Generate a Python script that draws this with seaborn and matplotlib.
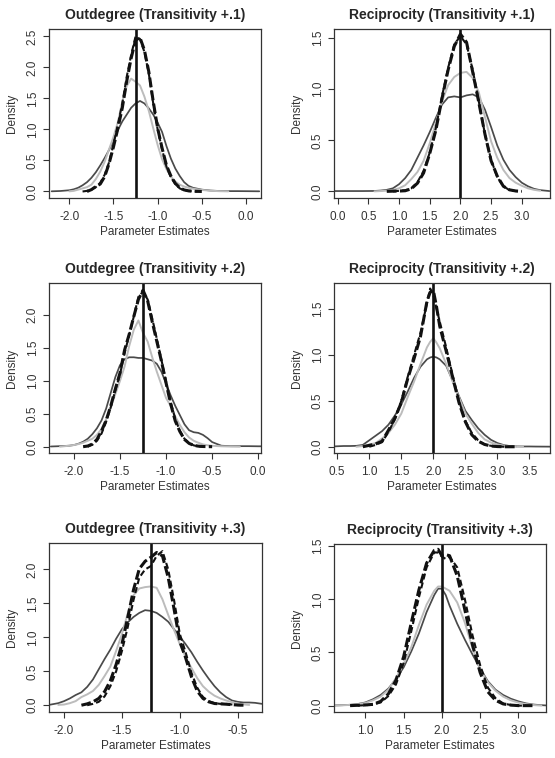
import numpy as np
import pandas as pd
import matplotlib
matplotlib.use("Agg")
import matplotlib.pyplot as plt
import seaborn as sns

nan = np.nan

# --------------------------------
# DATA (densities)
# --------------------------------

titles = [
    "Outdegree (Transitivity +.1)",
    "Reciprocity (Transitivity +.1)",
    "Outdegree (Transitivity +.2)",
    "Reciprocity (Transitivity +.2)",
    "Outdegree (Transitivity +.3)",
    "Reciprocity (Transitivity +.3)",
]

true_outdegree = -1.25
true_reciprocity = 2.0

# panel 1: outdegree, transitivity +.1
od1_x = [-2.2, -2.1, -2.0, -1.95, -1.9, -1.85, -1.8, -1.75, -1.7, -1.65,
         -1.6, -1.55, -1.5, -1.45, -1.4, -1.35, -1.3, -1.25, -1.2, -1.15,
         -1.1, -1.05, -1.0, -0.95, -0.9, -0.85, -0.8, -0.75, -0.7, -0.65,
         -0.6, -0.55, -0.5, -0.4, -0.3, -0.2, -0.1, 0.0, 0.15]
od1_dark = [0.003, 0.008, 0.02, 0.035, 0.06, 0.1, 0.15, 0.22, 0.31, 0.42,
            0.54, 0.67, 0.82, 0.99, 1.13, 1.24, 1.35, 1.42, 1.46, 1.42,
            1.34, 1.24, 1.11, 0.96, 0.73, 0.53, 0.37, 0.25, 0.15, 0.09,
            0.06, 0.045, 0.03, 0.015, 0.008, 0.006, 0.006, 0.005, 0.003]
od1_light = [nan, nan, 0.003, 0.01, 0.03, 0.05, 0.07, 0.11, 0.2, 0.32,
             0.48, 0.68, 0.88, 1.12, 1.45, 1.7, 1.82, 1.77, 1.71, 1.53,
             1.3, 1.02, 0.75, 0.52, 0.36, 0.24, 0.16, 0.11, 0.08, 0.06,
             0.045, 0.035, 0.025, 0.012, 0.005, 0.002, nan, nan, nan]
od1_dash_a = [nan, nan, nan, nan, nan, nan, 0.0, 0.03, 0.08, 0.12,
              0.24, 0.45, 0.72, 1.02, 1.35, 1.78, 2.15, 2.44, 2.48, 2.28,
              1.93, 1.45, 1.02, 0.7, 0.42, 0.25, 0.13, 0.06, 0.025, 0.01,
              0.005, 0.002, 0.0, nan, nan, nan, nan, nan, nan]
od1_dash_b = [nan, nan, nan, nan, nan, 0.0, 0.01, 0.03, 0.07, 0.14,
              0.27, 0.47, 0.76, 1.08, 1.42, 1.85, 2.2, 2.5, 2.46, 2.25,
              1.9, 1.42, 1.0, 0.68, 0.4, 0.23, 0.12, 0.05, 0.02, 0.008,
              0.003, 0.0, nan, nan, nan, nan, nan, nan, nan]

# panel 2: reciprocity, transitivity +.1
rc1_x = [-0.05, 0.2, 0.4, 0.6, 0.7, 0.8, 0.9, 1.0, 1.1, 1.2, 1.3, 1.4,
         1.5, 1.6, 1.7, 1.8, 1.9, 2.0, 2.1, 2.2, 2.3, 2.4, 2.5, 2.6,
         2.7, 2.8, 2.9, 3.0, 3.1, 3.2, 3.3, 3.45]
rc1_dark = [0.003, 0.003, 0.003, 0.004, 0.008, 0.015, 0.03, 0.07, 0.13, 0.21,
            0.33, 0.45, 0.58, 0.72, 0.85, 0.92, 0.93, 0.92, 0.94, 0.95,
            0.92, 0.8, 0.63, 0.45, 0.31, 0.21, 0.14, 0.085, 0.05, 0.025,
            0.012, 0.003]
rc1_light = [nan, nan, nan, 0.0, 0.003, 0.007, 0.014, 0.03, 0.06, 0.12,
             0.19, 0.3, 0.47, 0.67, 0.88, 1.04, 1.12, 1.16, 1.17, 1.11,
             0.97, 0.73, 0.49, 0.33, 0.21, 0.13, 0.085, 0.055, 0.03, 0.015,
             0.006, nan]
rc1_dash_a = [nan, nan, nan, nan, nan, 0.0, 0.002, 0.003, 0.006, 0.025,
              0.08, 0.18, 0.37, 0.6, 0.91, 1.19, 1.42, 1.54, 1.46, 1.17,
              0.87, 0.56, 0.3, 0.15, 0.05, 0.015, 0.004, 0.0, nan, nan,
              nan, nan]
rc1_dash_b = [nan, nan, nan, nan, nan, nan, 0.0, 0.005, 0.01, 0.03,
              0.09, 0.2, 0.38, 0.62, 0.93, 1.21, 1.44, 1.52, 1.44, 1.19,
              0.88, 0.56, 0.31, 0.14, 0.05, 0.012, 0.003, 0.0, nan, nan,
              nan, nan]

# panel 3: outdegree, transitivity +.2
od2_x = [-2.25, -2.15, -2.05, -2.0, -1.95, -1.9, -1.85, -1.8, -1.75, -1.7,
         -1.65, -1.6, -1.55, -1.5, -1.45, -1.4, -1.35, -1.3, -1.25, -1.2,
         -1.15, -1.1, -1.05, -1.0, -0.95, -0.9, -0.85, -0.8, -0.75, -0.7,
         -0.65, -0.6, -0.55, -0.5, -0.4, -0.3, -0.2, -0.1, 0.0, 0.03]
od2_dark = [0.003, 0.008, 0.015, 0.025, 0.045, 0.075, 0.12, 0.19, 0.28, 0.4,
            0.58, 0.82, 1.06, 1.24, 1.33, 1.36, 1.36, 1.35, 1.35, 1.33,
            1.31, 1.26, 1.14, 0.96, 0.78, 0.62, 0.48, 0.34, 0.25, 0.22,
            0.21, 0.18, 0.13, 0.07, 0.015, 0.008, 0.008, 0.008, 0.006, 0.006]
od2_light = [nan, 0.0, 0.015, 0.025, 0.04, 0.06, 0.09, 0.12, 0.18, 0.27,
             0.42, 0.6, 0.8, 1.0, 1.22, 1.53, 1.78, 1.92, 1.73, 1.6,
             1.36, 1.14, 0.94, 0.74, 0.62, 0.46, 0.33, 0.22, 0.14, 0.09,
             0.06, 0.035, 0.022, 0.014, 0.006, 0.002, 0.0, nan, nan, nan]
od2_dash_a = [nan, nan, nan, nan, nan, 0.0, 0.01, 0.04, 0.11, 0.24,
              0.4, 0.62, 0.88, 1.12, 1.47, 1.71, 1.98, 2.24, 2.38, 2.22,
              1.9, 1.6, 1.3, 0.97, 0.65, 0.39, 0.23, 0.11, 0.05, 0.02,
              0.008, 0.003, 0.001, 0.0, nan, nan, nan, nan, nan, nan]
od2_dash_b = [nan, nan, nan, nan, nan, nan, 0.0, 0.03, 0.09, 0.2,
              0.38, 0.6, 0.86, 1.1, 1.42, 1.7, 1.98, 2.28, 2.36, 2.24,
              1.95, 1.64, 1.32, 0.99, 0.68, 0.42, 0.24, 0.12, 0.055, 0.02,
              0.005, 0.0, nan, nan, nan, nan, nan, nan, nan, nan]

# panel 4: reciprocity, transitivity +.2
rc2_x = [0.46, 0.6, 0.7, 0.8, 0.9, 1.0, 1.1, 1.2, 1.3, 1.4, 1.5, 1.6,
         1.7, 1.8, 1.9, 1.95, 2.0, 2.05, 2.1, 2.2, 2.3, 2.4, 2.5, 2.6,
         2.7, 2.8, 2.9, 3.0, 3.1, 3.2, 3.3, 3.4, 3.5, 3.6, 3.82]
rc2_dark = [0.004, 0.008, 0.008, 0.01, 0.02, 0.07, 0.12, 0.17, 0.24, 0.34,
            0.46, 0.6, 0.75, 0.87, 0.95, 0.97, 0.98, 0.97, 0.95, 0.88,
            0.72, 0.55, 0.39, 0.29, 0.2, 0.13, 0.075, 0.04, 0.018, 0.007,
            0.004, 0.003, 0.003, 0.002, 0.001]
rc2_light = [nan, nan, nan, 0.0, 0.008, 0.023, 0.04, 0.09, 0.15, 0.24,
             0.36, 0.54, 0.71, 0.9, 1.08, 1.14, 1.18, 1.13, 1.07, 0.9,
             0.71, 0.54, 0.36, 0.25, 0.15, 0.08, 0.045, 0.025, 0.012, 0.006,
             0.002, 0.0, nan, nan, nan]
rc2_dash_a = [nan, nan, nan, nan, 0.0, 0.015, 0.03, 0.06, 0.18, 0.31,
              0.48, 0.74, 0.96, 1.2, 1.58, 1.68, 1.7, 1.52, 1.31, 1.04,
              0.76, 0.48, 0.27, 0.13, 0.06, 0.025, 0.008, 0.002, 0.0, 0.0,
              0.0, nan, nan, nan, nan]
rc2_dash_b = [nan, nan, nan, nan, nan, 0.0, 0.02, 0.05, 0.16, 0.3,
              0.5, 0.76, 1.0, 1.24, 1.56, 1.72, 1.65, 1.5, 1.36, 1.08,
              0.78, 0.5, 0.28, 0.15, 0.07, 0.025, 0.01, 0.003, 0.0, 0.0,
              0.0, nan, nan, nan, nan]

# panel 5: outdegree, transitivity +.3
od3_x = [-2.12, -2.05, -2.0, -1.95, -1.9, -1.85, -1.8, -1.75, -1.7, -1.65,
         -1.6, -1.55, -1.5, -1.45, -1.4, -1.35, -1.3, -1.25, -1.2, -1.15,
         -1.1, -1.05, -1.0, -0.95, -0.9, -0.85, -0.8, -0.75, -0.7, -0.65,
         -0.6, -0.55, -0.5, -0.45, -0.4, -0.35, -0.29]
od3_dark = [0.008, 0.03, 0.06, 0.1, 0.15, 0.19, 0.27, 0.38, 0.53, 0.68,
            0.82, 0.98, 1.12, 1.22, 1.3, 1.36, 1.4, 1.39, 1.36, 1.3,
            1.23, 1.12, 1.01, 0.9, 0.78, 0.64, 0.51, 0.39, 0.28, 0.19,
            0.12, 0.07, 0.05, 0.04, 0.04, 0.035, 0.02]
od3_light = [nan, 0.005, 0.01, 0.03, 0.06, 0.12, 0.16, 0.21, 0.3, 0.43,
             0.57, 0.8, 1.05, 1.35, 1.62, 1.72, 1.74, 1.75, 1.73, 1.56,
             1.33, 1.11, 0.9, 0.71, 0.55, 0.4, 0.28, 0.2, 0.14, 0.1,
             0.07, 0.045, 0.025, 0.012, 0.004, nan, nan]
od3_dash_a = [nan, nan, nan, nan, nan, 0.0, 0.02, 0.05, 0.1, 0.2,
              0.36, 0.6, 0.9, 1.29, 1.7, 2.01, 2.12, 2.18, 2.25, 2.2,
              1.88, 1.42, 0.94, 0.7, 0.42, 0.21, 0.1, 0.05, 0.025, 0.02,
              0.015, 0.008, 0.003, 0.0, nan, nan, nan]
od3_dash_b = [nan, nan, nan, nan, nan, nan, 0.0, 0.02, 0.05, 0.13,
              0.28, 0.5, 0.8, 1.15, 1.55, 1.88, 2.0, 2.05, 2.2, 2.27,
              2.0, 1.55, 1.05, 0.78, 0.48, 0.26, 0.12, 0.06, 0.03, 0.02,
              0.02, 0.01, 0.002, 0.0, nan, nan, nan]

# panel 6: reciprocity, transitivity +.3
rc3_x = [0.6, 0.7, 0.8, 0.9, 1.0, 1.1, 1.2, 1.3, 1.4, 1.5, 1.6, 1.7,
         1.8, 1.9, 1.95, 2.0, 2.05, 2.1, 2.2, 2.3, 2.4, 2.5, 2.6, 2.7,
         2.8, 2.9, 3.0, 3.1, 3.2, 3.3, 3.36]
rc3_dark = [0.002, 0.004, 0.008, 0.015, 0.03, 0.06, 0.1, 0.16, 0.25, 0.36,
            0.51, 0.68, 0.88, 1.04, 1.1, 1.1, 1.04, 0.94, 0.77, 0.62,
            0.48, 0.35, 0.23, 0.15, 0.1, 0.065, 0.04, 0.021, 0.01, 0.004,
            0.002]
rc3_light = [0.0, 0.003, 0.007, 0.014, 0.025, 0.05, 0.085, 0.15, 0.26, 0.39,
             0.55, 0.76, 0.95, 1.08, 1.12, 1.12, 1.1, 1.08, 0.97, 0.78,
             0.54, 0.34, 0.22, 0.14, 0.085, 0.05, 0.028, 0.014, 0.005, 0.0,
             nan]
rc3_dash_a = [nan, nan, 0.0, 0.003, 0.006, 0.012, 0.04, 0.11, 0.24, 0.46,
              0.78, 1.09, 1.34, 1.46, 1.47, 1.41, 1.42, 1.41, 1.22, 0.9,
              0.57, 0.31, 0.13, 0.05, 0.016, 0.005, 0.0, 0.0, 0.0, nan,
              nan]
rc3_dash_b = [nan, nan, nan, 0.0, 0.004, 0.01, 0.03, 0.09, 0.2, 0.4,
              0.7, 1.02, 1.3, 1.44, 1.44, 1.4, 1.38, 1.4, 1.3, 1.0,
              0.66, 0.38, 0.17, 0.07, 0.02, 0.006, 0.0, 0.0, nan, nan,
              nan]

# tick positions shown on each panel
od1_xticks = [-2.0, -1.5, -1.0, -0.5, 0.0]
od2_xticks = [-2.0, -1.5, -1.0, -0.5, 0.0]
od3_xticks = [-2.0, -1.5, -1.0, -0.5]
rc1_xticks = [0.0, 0.5, 1.0, 1.5, 2.0, 2.5, 3.0]
rc2_xticks = [0.5, 1.0, 1.5, 2.0, 2.5, 3.0, 3.5]
rc3_xticks = [1.0, 1.5, 2.0, 2.5, 3.0]
od1_yticks = [0.0, 0.5, 1.0, 1.5, 2.0, 2.5]
od2_yticks = [0.0, 0.5, 1.0, 1.5, 2.0]
od3_yticks = [0.0, 0.5, 1.0, 1.5, 2.0]
rc_yticks = [0.0, 0.5, 1.0, 1.5]

# --------------------------------
# STYLE
# --------------------------------

sns.set_theme(style="white")
plt.rcParams["font.family"] = ["Liberation Sans", "DejaVu Sans"]
plt.rcParams["axes.unicode_minus"] = False

W, H = 555, 758
fig = plt.figure(figsize=(W / 100, H / 100), dpi=100)

curve_styles = [
    dict(color="#4a4a4a", lw=1.25),
    dict(color="#bcbcbc", lw=1.4),
    dict(color="#111111", lw=2.2, linestyle=(0, (3.2, 1.1))),
    dict(color="#111111", lw=1.5, linestyle=(0, (2.9, 1.5))),
]

panels = [
    dict(x=od1_x, curves=[od1_dark, od1_light, od1_dash_a, od1_dash_b],
         true=true_outdegree, xticks=od1_xticks, yticks=od1_yticks,
         xlim=(-2.23, 0.17), ylim=(-0.105, 2.62), box=(49, 261, 29, 198)),
    dict(x=rc1_x, curves=[rc1_dark, rc1_light, rc1_dash_a, rc1_dash_b],
         true=true_reciprocity, xticks=rc1_xticks, yticks=rc_yticks,
         xlim=(-0.06, 3.46), ylim=(-0.065, 1.59), box=(334, 550, 29, 198)),
    dict(x=od2_x, curves=[od2_dark, od2_light, od2_dash_a, od2_dash_b],
         true=true_outdegree, xticks=od2_xticks, yticks=od2_yticks,
         xlim=(-2.27, 0.03), ylim=(-0.096, 2.49), box=(49, 261, 283, 453)),
    dict(x=rc2_x, curves=[rc2_dark, rc2_light, rc2_dash_a, rc2_dash_b],
         true=true_reciprocity, xticks=rc2_xticks, yticks=rc_yticks,
         xlim=(0.45, 3.82), ylim=(-0.068, 1.78), box=(334, 550, 283, 453)),
    dict(x=od3_x, curves=[od3_dark, od3_light, od3_dash_a, od3_dash_b],
         true=true_outdegree, xticks=od3_xticks, yticks=od3_yticks,
         xlim=(-2.13, -0.29), ylim=(-0.1, 2.39), box=(49, 262, 543, 712)),
    dict(x=rc3_x, curves=[rc3_dark, rc3_light, rc3_dash_a, rc3_dash_b],
         true=true_reciprocity, xticks=rc3_xticks, yticks=rc_yticks,
         xlim=(0.59, 3.36), ylim=(-0.06, 1.52), box=(334, 546, 544, 712)),
]

# --------------------------------
# DRAW
# --------------------------------

for title, p in zip(titles, panels):
    l, r, t, b = p["box"]
    ax = fig.add_axes([l / W, 1 - b / H, (r - l) / W, (b - t) / H])

    for ys, style in zip(p["curves"], curve_styles):
        df = pd.DataFrame({"x": p["x"], "y": ys}).dropna()
        sns.lineplot(data=df, x="x", y="y", ax=ax, estimator=None,
                     sort=False, **style)

    ax.axvline(p["true"], color="#111111", lw=1.9)

    ax.set_xlim(*p["xlim"])
    ax.set_ylim(*p["ylim"])
    ax.set_xticks(p["xticks"])
    ax.set_xticklabels([f"{v:.1f}" for v in p["xticks"]])
    ax.set_yticks(p["yticks"])
    ax.set_yticklabels([f"{v:.1f}" for v in p["yticks"]],
                       rotation=90, va="center")

    ax.tick_params(axis="both", which="both", direction="out", length=4.5,
                   width=0.8, color="#333333", labelsize=8.5,
                   labelcolor="#333333", bottom=True, left=True)
    ax.tick_params(axis="x", pad=4.5)
    ax.tick_params(axis="y", pad=3)

    for spine in ax.spines.values():
        spine.set_color("#333333")
        spine.set_linewidth(0.9)

    ax.set_title(title, fontsize=10, fontweight="bold", pad=7.5)
    ax.set_xlabel("Parameter Estimates", fontsize=8.5, color="#333333")
    ax.set_ylabel("Density", fontsize=8.5, color="#333333")
    ax.xaxis.set_label_coords(0.5, -34 / (b - t))
    ax.xaxis.label.set_va("center")
    ax.yaxis.set_label_coords(-37 / (r - l), 0.5)
    ax.yaxis.label.set_va("center")

fig.savefig("out.png", dpi=100)
